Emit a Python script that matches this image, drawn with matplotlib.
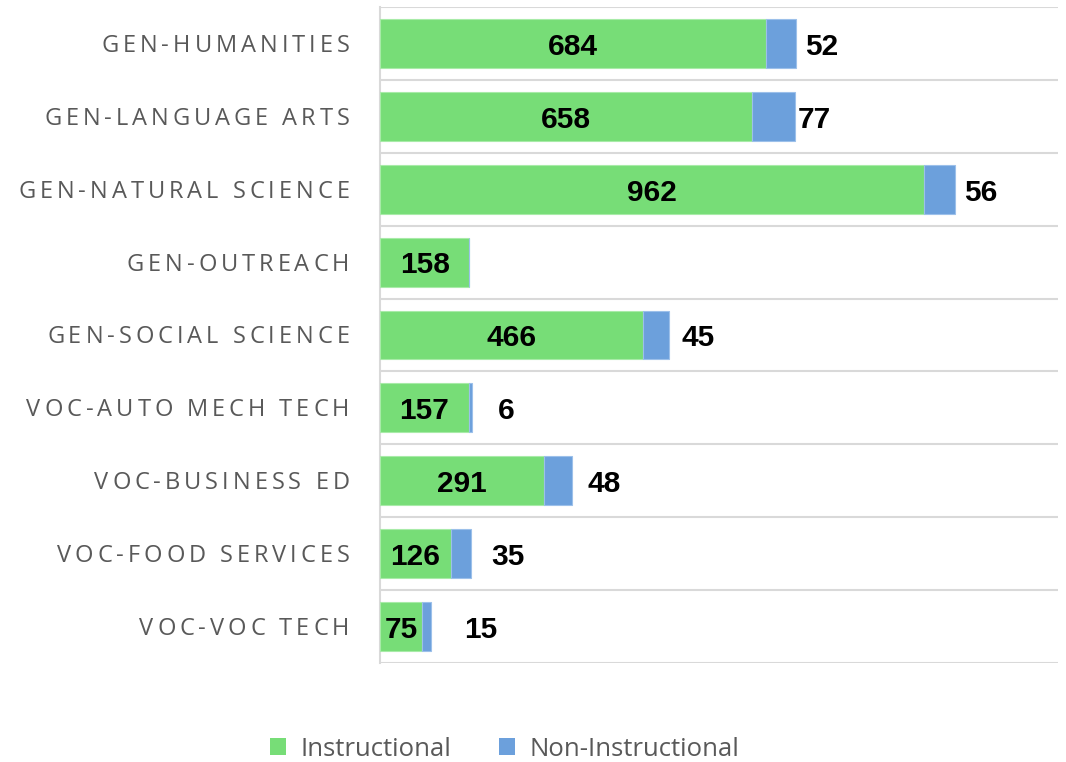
import matplotlib
matplotlib.use("Agg")
import matplotlib.pyplot as plt
from matplotlib.patches import Patch
from matplotlib.font_manager import FontProperties, findfont
from matplotlib.ft2font import FT2Font
import numpy as np

categories = ["GEN-HUMANITIES", "GEN-LANGUAGE ARTS", "GEN-NATURAL SCIENCE", "GEN-OUTREACH",
              "GEN-SOCIAL SCIENCE", "VOC-AUTO MECH TECH", "VOC-BUSINESS ED",
              "VOC-FOOD SERVICES", "VOC-VOC TECH"]
instructional = [684, 658, 962, 158, 466, 157, 291, 126, 75]
non_instructional = [52, 77, 56, 0, 45, 6, 48, 35, 15]
series_names = ["Instructional", "Non-Instructional"]

# label offsets (pixels) right of bar end for non-instructional labels
label_pad_px = [9, 2, 9, 0, 13, 26, 16, 20, 33]

GREEN = "#77DD77"
BLUE = "#6CA0DC"
GRAY = "#595959"
DPI = 100

fig = plt.figure(figsize=(10.66, 7.62), dpi=DPI)
ax = fig.add_axes([380/1066, 1-663/762, (1058-380)/1066, (663-7)/762])

y = np.arange(len(categories))
ax.barh(y, instructional, height=0.67, color=GREEN, edgecolor="#a8eba8", linewidth=0.8, zorder=3)
ax.barh(y, non_instructional, left=instructional, height=0.67, color=BLUE,
        edgecolor="#9cc0ea", linewidth=0.8, zorder=3)

ax.set_xlim(0, 1200)
ax.set_ylim(len(categories)-0.5, -0.5)
ax.set_xticks([])
ax.set_yticks(y)
ax.set_yticklabels([])
ax.tick_params(axis="y", length=0)
ax.set_yticks(np.arange(-0.5, len(categories), 1), minor=True)
ax.tick_params(axis="y", which="minor", length=0)
ax.grid(axis="y", which="minor", color="#d9d9d9", linewidth=1.5, zorder=0)
ax.grid(axis="y", which="major", visible=False)
for s in ["top", "right", "bottom"]:
    ax.spines[s].set_visible(False)
ax.spines["left"].set_color("#d9d9d9")
ax.spines["left"].set_linewidth(1.5)

# letter-spaced category labels (drawn character by character)
CAT_SIZE = 17
SPACING_PT = 2.85
RIGHT_PT = -30.5 * 72 / DPI
ft = FT2Font(findfont(FontProperties(family="Open Sans")))
ft.set_size(CAT_SIZE, 72)

def advance(c):
    g = ft.load_char(ord(c))
    return g.linearHoriAdvance / 65536.0

ytrans = ax.get_yaxis_transform()
for i, lab in enumerate(categories):
    advs = [advance(c) for c in lab]
    total = sum(advs) + SPACING_PT * (len(lab) - 1)
    x = RIGHT_PT - total
    for c, a in zip(lab, advs):
        if c != " ":
            ax.annotate(c, xy=(0, i), xycoords=ytrans, xytext=(x, -0.357 * CAT_SIZE),
                        textcoords="offset points", ha="left", va="baseline",
                        fontfamily="Open Sans", fontsize=CAT_SIZE, color=GRAY,
                        annotation_clip=False)
        x += a + SPACING_PT

VAL_SIZE = 21.5
for i, (a, b) in enumerate(zip(instructional, non_instructional)):
    ax.annotate(str(a), xy=(a/2, i), xytext=(0, -0.358 * VAL_SIZE - 0.5), textcoords="offset points",
                ha="center", va="baseline", fontfamily="Liberation Sans",
                fontweight="bold", fontsize=VAL_SIZE, color="black", zorder=4)
    if b > 0:
        ax.annotate(str(b), xy=(a+b, i), xytext=(label_pad_px[i] * 72 / DPI, -0.358 * VAL_SIZE - 0.5),
                    textcoords="offset points", ha="left", va="baseline",
                    fontfamily="Liberation Sans", fontweight="bold",
                    fontsize=VAL_SIZE, color="black", zorder=4)

handles = [Patch(facecolor=GREEN, label=series_names[0]), Patch(facecolor=BLUE, label=series_names[1])]
fig.legend(handles=handles, loc="center", bbox_to_anchor=(504.5/1066, 1-749/762), ncol=2,
           frameon=False, prop={"family": "Open Sans", "size": 18.5}, labelcolor=GRAY,
           handlelength=0.62, handleheight=0.62, handletextpad=0.55, columnspacing=1.87)

fig.savefig("out.png", dpi=DPI)
